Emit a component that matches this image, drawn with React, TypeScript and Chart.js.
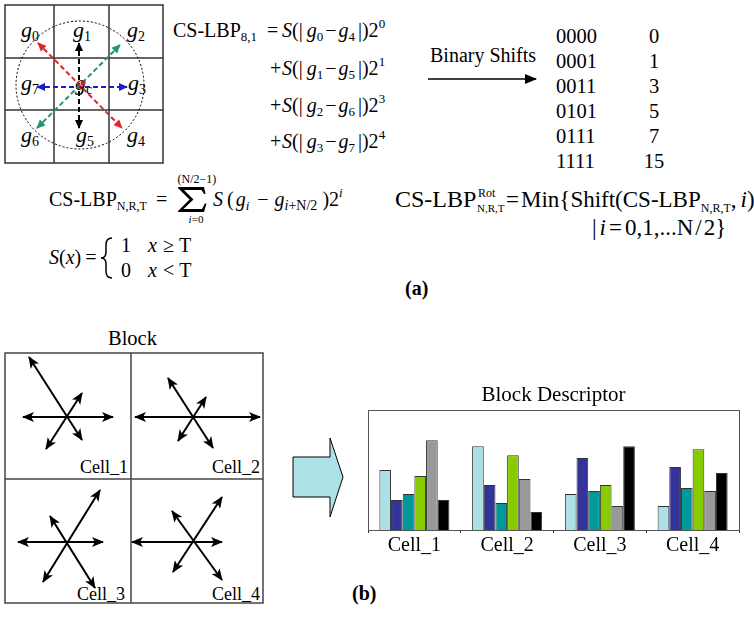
import React, { useEffect, useRef } from 'react';
import { Chart, registerables } from 'chart.js';

Chart.register(...registerables);

// ---------- chart data (Block Descriptor histogram) ----------
const categories = ['Cell_1', 'Cell_2', 'Cell_3', 'Cell_4'];
const binLightCyan = [20, 28, 12, 8];
const binDarkBlue = [10, 15, 24, 21];
const binTeal = [12, 9, 13, 14];
const binGreen = [18, 25, 15, 27];
const binGray = [30, 17, 8, 13];
const binBlack = [10, 6, 28, 19];
const seriesNames = ['Bin 1', 'Bin 2', 'Bin 3', 'Bin 4', 'Bin 5', 'Bin 6'];
const seriesColors = ['#ade0e6', '#333399', '#009999', '#88cc00', '#999999', '#000000'];
const yMax = 40;

// ---------- binary shift table ----------
const binaryCodes = ['0000', '0001', '0011', '0101', '0111', '1111'];
const binaryValues = ['0', '1', '3', '5', '7', '15'];

const FONT = "'Liberation Serif', 'Times New Roman', serif";

function BarChart() {
  const ref = useRef<HTMLCanvasElement>(null);
  useEffect(() => {
    if (!ref.current) return;
    const boxPlugin = {
      id: 'plotBox',
      afterDraw(chart: any) {
        const { ctx, chartArea: a } = chart;
        ctx.save();
        ctx.strokeStyle = '#555';
        ctx.lineWidth = 1;
        ctx.strokeRect(Math.round(a.left) + 0.5, Math.round(a.top) + 0.5, Math.round(a.right - a.left), Math.round(a.bottom - a.top));
        ctx.restore();
      },
    };
    const all = [binLightCyan, binDarkBlue, binTeal, binGreen, binGray, binBlack];
    const chart = new Chart(ref.current, {
      type: 'bar',
      data: {
        labels: categories,
        datasets: all.map((d, i) => ({
          label: seriesNames[i],
          data: d,
          backgroundColor: seriesColors[i],
          borderColor: '#333',
          borderWidth: 1,
          barPercentage: 1,
          categoryPercentage: 0.755,
        })),
      },
      options: {
        responsive: false,
        animation: false,
        layout: { padding: { left: 8, right: 15, top: 0, bottom: 16 } },
        plugins: {
          legend: { display: false },
          tooltip: { enabled: false },
          title: {
            display: true,
            text: 'Block Descriptor',
            color: '#000',
            font: { family: FONT, size: 21, weight: 'normal' },
            padding: { top: 8, bottom: 2 },
          },
        },
        scales: {
          x: {
            grid: { display: true, drawOnChartArea: false, drawTicks: true, tickLength: 3, color: '#333', offset: true },
            border: { display: false },
            ticks: { color: '#000', font: { family: FONT, size: 20 }, padding: 1 },
          },
          y: { display: false, min: 0, max: yMax },
        },
      },
      plugins: [boxPlugin],
    } as any);
    return () => chart.destroy();
  }, []);
  return (
    <canvas
      ref={ref}
      width={394}
      height={200}
      style={{ position: 'absolute', left: 360, top: 375, width: 394, height: 200 }}
    />
  );
}

const it = { fontStyle: 'italic' } as const;

function SPair({ x, y, a, b, p }: { x: number; y: number; a: string; b: string; p: string }) {
  return (
    <text x={x} y={y}>
      <tspan {...it}>S</tspan>
      <tspan>(|</tspan>
      <tspan dx={4} {...it}>g</tspan>
      <tspan fontSize={13} dy={4}>{a}</tspan>
      <tspan dy={-4} dx={2}>−</tspan>
      <tspan dx={2} {...it}>g</tspan>
      <tspan fontSize={13} dy={4}>{b}</tspan>
      <tspan dy={-4} dx={3}>|)2</tspan>
      <tspan fontSize={13} dy={-9}>{p}</tspan>
    </text>
  );
}

function GLabel({ x, y, s }: { x: number; y: number; s: string }) {
  return (
    <text x={x} y={y} fontSize={22}>
      <tspan {...it}>g</tspan>
      <tspan fontSize={14} dy={4}>{s}</tspan>
    </text>
  );
}

const cellArrows: number[][] = [
  [23, 417, 113, 417], [29, 357, 82, 440], [46, 449, 82, 393],
  [135, 417, 260, 417], [168, 378, 213, 448], [178, 441, 206, 397],
  [18, 542, 103, 542], [43, 582, 100, 490], [50, 516, 95, 588],
  [132, 542, 222, 542], [173, 572, 222, 497], [172, 511, 222, 580],
];

function Figure() {
  const markerColors: [string, string][] = [
    ['mRed', '#e2262b'],
    ['mGreen', '#1b9a6c'],
    ['mBlue', '#1c1cc8'],
    ['mBlack', '#000000'],
  ];
  return (
    <svg width={754} height={620} style={{ position: 'absolute', left: 0, top: 0 }} fontFamily={FONT} fontSize={20} fill="#000">
      <defs>
        {markerColors.map(([id, c]) => (
          <marker key={id} id={id} viewBox="0 0 10 10" refX={9} refY={5} markerWidth={9} markerHeight={9} markerUnits="userSpaceOnUse" orient="auto-start-reverse">
            <path d="M0,0.5 L10,5 L0,9.5 z" fill={c} />
          </marker>
        ))}
        <marker id="mBarb" viewBox="0 0 12 10" refX={11} refY={5} markerWidth={12} markerHeight={10} markerUnits="userSpaceOnUse" orient="auto-start-reverse">
          <path d="M0,0 L12,5 L0,10 L3,5 z" fill="#000" />
        </marker>
        <marker id="mBig" viewBox="0 0 12 10" refX={11} refY={5} markerWidth={13} markerHeight={10} markerUnits="userSpaceOnUse" orient="auto">
          <path d="M0,0 L12,5 L0,10 z" fill="#000" />
        </marker>
      </defs>

      {/* ---- 3x3 neighbourhood ---- */}
      <g stroke="#333" strokeWidth={1.5} fill="none">
        <rect x={5} y={5} width={158} height={158} />
        <line x1={54} y1={5} x2={54} y2={163} />
        <line x1={109} y1={5} x2={109} y2={163} />
        <line x1={5} y1={58} x2={163} y2={58} />
        <line x1={5} y1={110} x2={163} y2={110} />
      </g>
      <circle cx={80} cy={85} r={64} fill="none" stroke="#000" strokeWidth={1} strokeDasharray="2 2" />
      <GLabel x={21} y={37} s="0" />
      <GLabel x={73} y={37} s="1" />
      <GLabel x={127} y={37} s="2" />
      <GLabel x={21} y={90} s="7" />
      <GLabel x={75} y={90} s="c" />
      <GLabel x={128} y={90} s="3" />
      <GLabel x={21} y={142} s="6" />
      <GLabel x={76} y={142} s="5" />
      <GLabel x={127} y={142} s="4" />
      <g strokeWidth={2} strokeDasharray="5 3" fill="none">
        <line x1={79} y1={43} x2={79} y2={128} stroke="#000" markerStart="url(#mBlack)" markerEnd="url(#mBlack)" />
        <line x1={37} y1={87} x2={127} y2={87} stroke="#1c1cc8" markerStart="url(#mBlue)" markerEnd="url(#mBlue)" />
        <line x1={37} y1={128} x2={120} y2={45} stroke="#1b9a6c" markerStart="url(#mGreen)" markerEnd="url(#mGreen)" />
        <line x1={38} y1={43} x2={122} y2={128} stroke="#e2262b" markerStart="url(#mRed)" markerEnd="url(#mRed)" />
      </g>
      <circle cx={83} cy={83} r={2.5} fill="#c81e1e" />

      {/* ---- CS-LBP 8,1 expansion ---- */}
      <text x={173} y={37}>CS-LBP<tspan fontSize={13} dy={4}>8,1</tspan></text>
      <text x={267} y={37}>=</text>
      <SPair x={282} y={37} a="0" b="4" p="0" />
      <text x={270} y={75}>+</text>
      <SPair x={282} y={75} a="1" b="5" p="1" />
      <text x={270} y={112}>+</text>
      <SPair x={282} y={112} a="2" b="6" p="3" />
      <text x={270} y={148}>+</text>
      <SPair x={282} y={148} a="3" b="7" p="4" />

      {/* ---- Binary shifts ---- */}
      <text x={430} y={62}>Binary Shifts</text>
      <line x1={428} y1={79} x2={536} y2={79} stroke="#000" strokeWidth={1.5} markerEnd="url(#mBig)" />
      {binaryCodes.map((c, i) => (
        <text key={'c' + i} x={556} y={43 + i * 25} fontSize={20.5}>{c}</text>
      ))}
      {binaryValues.map((v, i) => (
        <text key={'v' + i} x={654} y={43 + i * 25} fontSize={20.5} textAnchor="middle">{v}</text>
      ))}

      {/* ---- General CS-LBP ---- */}
      <text x={49} y={206}>CS-LBP<tspan fontSize={12} dy={4}>N,R,T</tspan></text>
      <text x={156} y={206}>=</text>
      <path d="M178,187 L204,187 L205.5,194 L204,194 L201.5,190 L184,190 L193.5,199.5 L183.5,209 L202,209 L205,203.5 L206.5,203.5 L204,212 L178,212 L178,211 L189.5,199.5 L178,188 Z" fill="#000" />
      <text x={197} y={183} fontSize={12} textAnchor="middle">(N/2−1)</text>
      <text x={196} y={223} fontSize={11} textAnchor="middle"><tspan {...it}>i</tspan>=0</text>
      <text x={213} y={206}>
        <tspan {...it}>S</tspan>
        <tspan dx={4}>(</tspan>
        <tspan dx={2} {...it}>g</tspan>
        <tspan fontSize={13} dy={4} {...it}>i</tspan>
        <tspan dy={-4} dx={8}>−</tspan>
        <tspan dx={6} {...it}>g</tspan>
        <tspan fontSize={14} dy={4} {...it}>i</tspan>
        <tspan fontSize={14}>+N/2</tspan>
        <tspan dy={-4} dx={5}>)2</tspan>
        <tspan fontSize={13} dy={-9} {...it}>i</tspan>
      </text>

      {/* ---- S(x) ---- */}
      <text x={49} y={264}>
        <tspan {...it}>S</tspan>(<tspan {...it}>x</tspan>)<tspan dx={4}>=</tspan>
      </text>
      <path d="M112,238 Q106,238 106,245 L106,252 Q106,258 101,258 Q106,258 106,264 L106,271 Q106,278 112,278" fill="none" stroke="#000" strokeWidth={1.5} />
      <text x={121} y={252}>1</text>
      <text x={148} y={252}><tspan {...it}>x</tspan><tspan dx={6}>≥</tspan><tspan dx={5}>T</tspan></text>
      <text x={121} y={277}>0</text>
      <text x={148} y={277}><tspan {...it}>x</tspan><tspan dx={6}>&lt;</tspan><tspan dx={5}>T</tspan></text>

      {/* ---- Rotation invariant ---- */}
      <g fontSize={23}>
        <text x={395} y={207} fontSize={24}>CS-LBP</text>
        <text x={478} y={197} fontSize={12}>Rot</text>
        <text x={477} y={212} fontSize={11}>N,R,T</text>
        <text x={506} y={207}>=</text>
        <text x={521} y={207}>
          Min{'{'}Shift(CS-LBP<tspan fontSize={12} dy={5}>N,R,T</tspan><tspan dy={-5}>,</tspan><tspan dx={4} {...it}>i</tspan><tspan>)</tspan>
        </text>
        <text x={592} y={235}>
          |<tspan dx={3} {...it}>i</tspan><tspan dx={3}>=</tspan><tspan dx={3}>0,1,...N</tspan><tspan dx={2}>/</tspan><tspan dx={2}>2</tspan>{'}'}
        </text>
      </g>

      <text x={405} y={295} fontWeight="bold">(a)</text>

      {/* ---- Block ---- */}
      <text x={108} y={345} fontSize={20.5}>Block</text>
      <g stroke="#444" strokeWidth={1.5} fill="none">
        <rect x={5} y={353} width={258} height={250} />
        <line x1={131} y1={353} x2={131} y2={603} />
        <line x1={5} y1={479} x2={263} y2={479} />
      </g>
      <g stroke="#000" strokeWidth={2}>
        {cellArrows.map((s, i) => (
          <line key={i} x1={s[0]} y1={s[1]} x2={s[2]} y2={s[3]} markerStart="url(#mBarb)" markerEnd="url(#mBarb)" />
        ))}
      </g>
      <text x={128} y={473} fontSize={18} textAnchor="end">Cell_1</text>
      <text x={260} y={473} fontSize={18} textAnchor="end">Cell_2</text>
      <text x={125} y={600} fontSize={18} textAnchor="end">Cell_3</text>
      <text x={260} y={600} fontSize={18} textAnchor="end">Cell_4</text>

      <polygon points="293,457 330,457 330,438 343,477 330,517 330,497 293,497" fill="#aee1e6" stroke="#000" strokeWidth={1} />

      <text x={352} y={600} fontWeight="bold">(b)</text>
    </svg>
  );
}

export default function App() {
  return (
    <div style={{ position: 'fixed', left: 0, top: 0, width: 754, height: 620, background: '#fff', overflow: 'hidden' }}>
      <Figure />
      <BarChart />
    </div>
  );
}
